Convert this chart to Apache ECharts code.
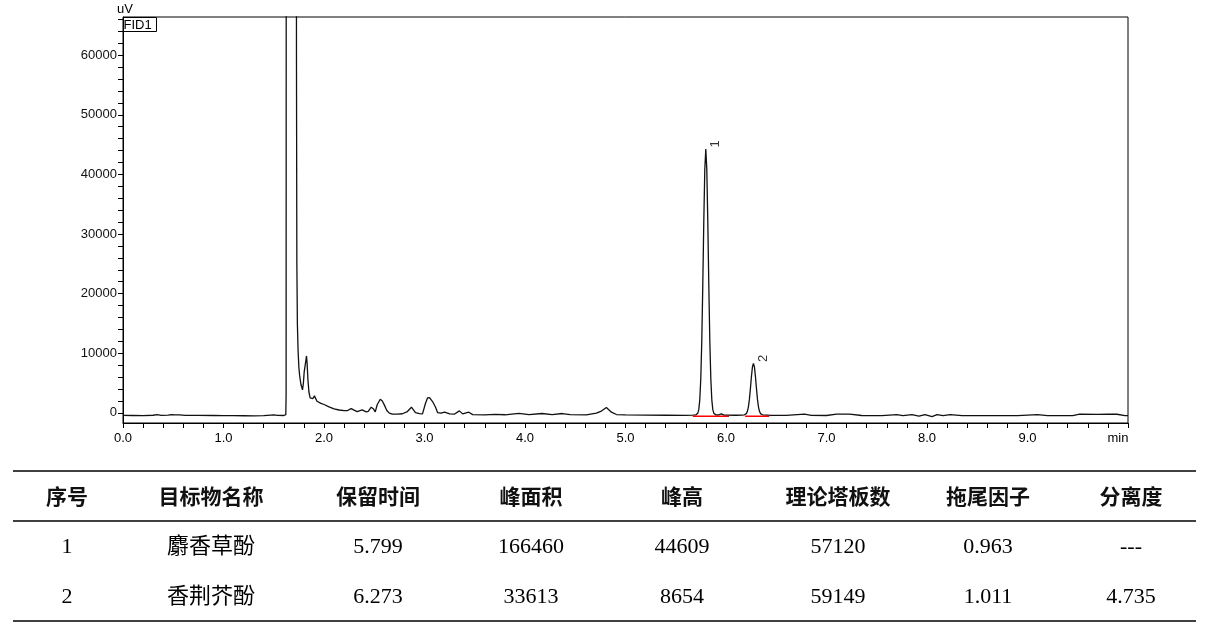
<!DOCTYPE html>
<html>
<head>
<meta charset="utf-8">
<script src="https://cdn.jsdelivr.net/npm/echarts@6/dist/echarts.min.js"></script>
<style>
html,body{margin:0;padding:0;background:#fff;}
#chart{width:1208px;height:629px;}
</style>
</head>
<body>
<div id="chart"></div>
<script>
// ---- data (time in min, signal in uV) ----
const chromTime = [
  0.00,0.10,0.20,0.30,0.34,0.38,0.45,0.48,0.52,0.56,0.62,0.75,0.90,1.00,1.10,1.20,1.30,1.40,1.47,1.50,1.54,1.60,
  1.615,1.620,1.623,1.626,1.722,1.726,1.730,1.735,1.742,1.750,1.758,1.770,1.786,1.795,1.803,1.810,1.818,1.826,1.832,
  1.840,1.850,1.862,1.876,1.890,1.905,1.915,1.930,1.945,1.970,2.000,2.050,2.100,2.150,2.200,2.230,2.270,2.300,2.330,
  2.380,2.420,2.440,2.470,2.490,2.510,2.530,2.560,2.580,2.600,2.625,2.650,2.680,2.730,2.780,2.830,2.870,2.890,2.910,
  2.950,2.980,3.010,3.030,3.050,3.080,3.110,3.130,3.164,3.200,3.250,3.300,3.347,3.380,3.440,3.480,3.600,3.700,3.800,
  3.940,4.040,4.170,4.270,4.370,4.450,4.610,4.710,4.760,4.810,4.860,4.910,5.000,5.200,5.400,5.600,5.670,
  5.699,5.709,5.719,5.729,5.739,5.749,5.759,5.769,5.779,5.789,5.799,5.809,5.819,5.829,5.839,5.849,5.859,5.869,5.879,5.889,5.899,
  5.920,5.953,5.980,6.100,6.160,
  6.173,6.183,6.193,6.203,6.213,6.223,6.233,6.243,6.253,6.263,6.273,6.283,6.293,6.303,6.313,6.323,6.333,6.343,6.353,6.363,6.373,
  6.450,6.600,6.780,6.850,7.000,7.100,7.230,7.350,7.550,7.700,7.760,7.850,7.920,7.980,8.050,8.100,8.160,8.230,8.350,
  8.600,8.900,9.100,9.200,9.450,9.520,9.700,9.800,9.890,9.970,10.000
];
const chromSignal = [
  -430,-440,-450,-400,-300,-420,-380,-300,-350,-330,-420,-430,-440,-450,-460,-480,-500,-470,-380,-340,-420,-440,
  -430,-300,3000,200000,200000,60000,25000,15000,10500,7600,6200,4800,3850,5000,6870,7200,8600,9550,8300,
  5600,3500,2500,2180,2400,2850,2650,1950,1730,1600,1400,1000,680,480,360,360,720,450,220,
  500,170,250,950,700,170,1400,2290,2000,1340,400,-50,-220,-200,-150,220,950,500,50,
  -120,-170,1620,2500,2570,1900,950,50,-55,110,-170,-200,335,-170,110,-300,-340,-250,-320,
  -100,-280,-110,-300,-110,-280,-335,-55,300,890,110,-280,-350,-380,-400,-420,-380,
  -337,-282,-82,533,2148,5672,12051,21375,32036,40824,44259,40824,32036,21375,12051,5672,2148,533,-82,-282,-337,
  -360,-170,-380,-400,-370,
  -345,-328,-274,-119,253,1009,2298,4098,6089,7690,8304,7690,6089,4098,2298,1009,253,-119,-274,-328,-345,
  -420,-430,-220,-420,-440,-220,-220,-440,-450,-280,-450,-300,-560,-280,-620,-300,-450,-280,-450,
  -460,-450,-300,-450,-450,-220,-250,-220,-230,-450,-450
];
// integration baselines (red)
const baseline1 = [[5.67,-560],[6.03,-560]];
const baseline2 = [[6.19,-560],[6.43,-560]];
// peak labels: time, apex signal, label
const peakTimes = [5.799, 6.273];
const peakApex = [44259, 8304];
const peakNames = ['1', '2'];
// axis ticks
const xLabelValues = [0,1,2,3,4,5,6,7,8,9];
const xTickValues = [0,0.2,0.4,0.6,0.8,1,1.2,1.4,1.6,1.8,2,2.2,2.4,2.6,2.8,3,3.2,3.4,3.6,3.8,4,4.2,4.4,4.6,4.8,
  5,5.2,5.4,5.6,5.8,6,6.2,6.4,6.6,6.8,7,7.2,7.4,7.6,7.8,8,8.2,8.4,8.6,8.8,9,9.2,9.4,9.6,9.8,10];
const yLabelValues = [0,10000,20000,30000,40000,50000,60000];
const yTickValues = [0,2000,4000,6000,8000,10000,12000,14000,16000,18000,20000,22000,24000,26000,28000,30000,
  32000,34000,36000,38000,40000,42000,44000,46000,48000,50000,52000,54000,56000,58000,60000,62000,64000,66000];
// table
const tableHeaders = ['序号','目标物名称','保留时间','峰面积','峰高','理论塔板数','拖尾因子','分离度'];
const tableRow1 = ['1','麝香草酚','5.799','166460','44609','57120','0.963','---'];
const tableRow2 = ['2','香荆芥酚','6.273','33613','8654','59149','1.011','4.735'];

// ---- build ----
const chromData = chromTime.map((t,i)=>[t, chromSignal[i]]);
const peakData = peakTimes.map((t,i)=>[t, peakApex[i], peakNames[i]]);

const colX = [67,211,378,531,682,838,988,1131];
const rowY = [496,547,597];
const graphics = [];
const AX = 'Liberation Sans, Arial, sans-serif';
graphics.push({type:'text', style:{text:'uV', x:117, y:9, font:'13px '+AX, fill:'#000', textAlign:'left', textVerticalAlign:'middle'}});
graphics.push({type:'rect', shape:{x:123.5,y:17.5,width:33,height:14}, style:{fill:'#fff', stroke:'#000', lineWidth:1}, z:100});
graphics.push({type:'text', style:{text:'FID1', x:123.5, y:25, font:'13px '+AX, fill:'#000', textAlign:'left', textVerticalAlign:'middle'}, z:101});
graphics.push({type:'text', style:{text:'min', x:1118, y:438, font:'13px '+AX, fill:'#000', textAlign:'center', textVerticalAlign:'middle'}});
[471,521,621].forEach(y=>{
  graphics.push({type:'line', shape:{x1:13,y1:y,x2:1196,y2:y}, style:{stroke:'#000', lineWidth:1.3}});
});
const HF = 'bold 21px "Noto Sans CJK SC", sans-serif';
const DF = '22px "Liberation Serif", "Noto Sans CJK SC", serif';
tableHeaders.forEach((h,i)=>graphics.push({type:'text', style:{text:h, x:colX[i], y:rowY[0], font:HF, fill:'#111', textAlign:'center', textVerticalAlign:'middle'}}));
[tableRow1, tableRow2].forEach((row,r)=>row.forEach((c,i)=>graphics.push({type:'text', style:{text:c, x:colX[i], y:rowY[r+1], font:DF, fill:'#000', textAlign:'center', textVerticalAlign:'middle'}})));

const chart = echarts.init(document.getElementById('chart'), null, {renderer:'canvas'});
chart.setOption({
  animation:false,
  backgroundColor:'#fff',
  grid:{left:123, right:80, top:17, bottom:206, show:true, borderColor:'#000', borderWidth:1, backgroundColor:'transparent'},
  xAxis:{
    type:'value', min:0, max:10,
    axisLine:{show:true, onZero:false, lineStyle:{color:'#000', width:1}},
    axisTick:{show:true, inside:false, length:5, lineStyle:{color:'#000'}, customValues:xTickValues},
    axisLabel:{show:true, customValues:xLabelValues, formatter:v=>Number(v).toFixed(1), color:'#000', fontSize:13, fontFamily:AX, margin:9},
    splitLine:{show:false}
  },
  yAxis:{
    type:'value', min:-1700, max:66400,
    axisLine:{show:true, onZero:false, lineStyle:{color:'#000', width:1}},
    axisTick:{show:true, inside:false, length:5, lineStyle:{color:'#000'}, customValues:yTickValues},
    axisLabel:{show:true, customValues:yLabelValues, formatter:v=>String(Math.round(v)), color:'#111', fontSize:13, fontFamily:AX, margin:6},
    splitLine:{show:false}
  },
  series:[
    {type:'line', data:chromData, showSymbol:false, clip:true, lineStyle:{color:'#111', width:1.3}, z:3},
    {type:'line', data:baseline1, showSymbol:false, lineStyle:{color:'#ff0000', width:1.5}, z:4},
    {type:'line', data:baseline2, showSymbol:false, lineStyle:{color:'#ff0000', width:1.5}, z:4},
    {type:'scatter', data:peakData, symbolSize:0, silent:true, z:5,
      label:{show:true, formatter:p=>p.data[2], rotate:90, position:'inside', offset:[5,10], color:'#000', fontSize:13, fontFamily:AX}}
  ],
  graphic:graphics
});
</script>
</body>
</html>
